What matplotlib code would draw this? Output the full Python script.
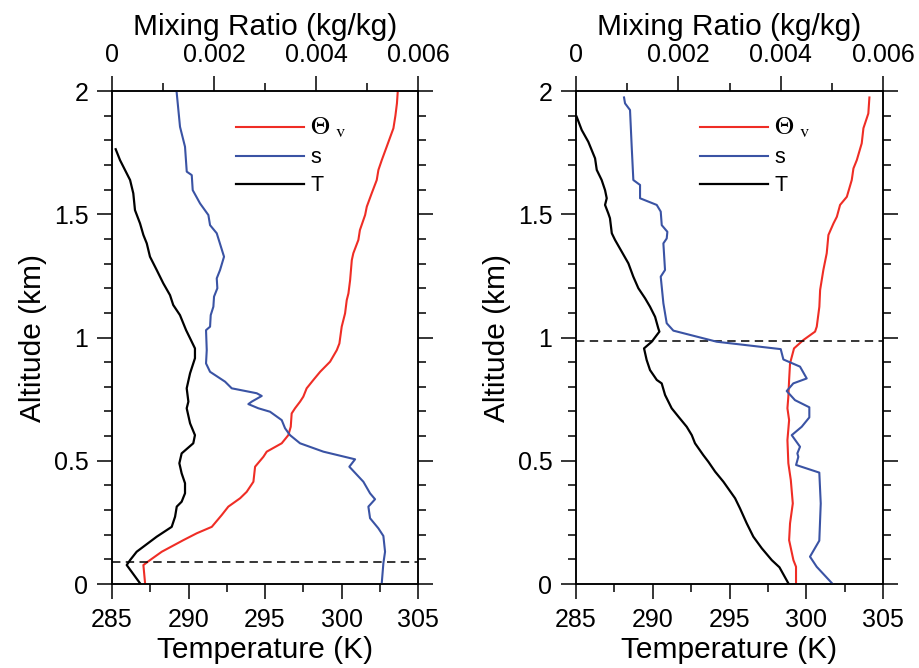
import matplotlib
matplotlib.use("Agg")
import matplotlib.pyplot as plt
from matplotlib.ticker import MultipleLocator, FuncFormatter

plt.rcParams["font.family"] = ["Liberation Sans", "DejaVu Sans"]
plt.rcParams["mathtext.fontset"] = "stix"

RED = "#ef2d25"
BLUE = "#3a53a4"

# ---- left panel ----
thv1_z = [0.003, 0.077, 0.097, 0.131, 0.178, 0.206, 0.232, 0.280, 0.314, 0.348, 0.374, 0.415,
          0.476, 0.516, 0.537, 0.571, 0.604, 0.638, 0.692, 0.713, 0.740, 0.760, 0.794, 0.828,
          0.861, 0.902, 0.949, 0.976, 1.044, 1.098, 1.152, 1.179, 1.233, 1.314, 1.342, 1.396,
          1.436, 1.497, 1.531, 1.585, 1.639, 1.680, 1.720, 1.774, 1.849, 1.900, 1.950, 1.995]
thv1 = [287.16, 287.05, 287.48, 288.25, 289.66, 290.54, 291.52, 292.17, 292.60, 293.37, 293.80, 294.24,
        294.35, 294.89, 295.11, 296.09, 296.52, 296.68, 296.74, 296.96, 297.29, 297.50, 297.72, 298.16,
        298.60, 299.25, 299.69, 299.86, 300.01, 300.23, 300.34, 300.45, 300.56, 300.67, 300.77, 301.10,
        301.20, 301.54, 301.65, 301.97, 302.30, 302.41, 302.63, 302.95, 303.39, 303.52, 303.62, 303.67]

t1_z = [0.003, 0.077, 0.097, 0.131, 0.192, 0.232, 0.273, 0.314, 0.334, 0.368, 0.409, 0.449,
        0.490, 0.530, 0.571, 0.604, 0.652, 0.713, 0.740, 0.794, 0.855, 0.916, 0.956, 0.997,
        1.030, 1.091, 1.132, 1.172, 1.220, 1.274, 1.328, 1.382, 1.416, 1.463, 1.517, 1.585,
        1.639, 1.666, 1.720, 1.764]
t1 = [286.83, 285.96, 286.18, 286.61, 287.92, 288.90, 289.12, 289.23, 289.55, 289.77, 289.77, 289.55,
      289.40, 289.55, 290.31, 290.42, 290.10, 289.88, 289.99, 289.88, 290.10, 290.42, 290.42, 290.10,
      289.84, 289.44, 289.00, 288.79, 288.35, 287.92, 287.48, 287.27, 287.05, 286.83, 286.50, 286.39,
      286.18, 285.96, 285.52, 285.24]

s1_z = [0.003, 0.084, 0.131, 0.195, 0.226, 0.267, 0.314, 0.344, 0.368, 0.415, 0.476, 0.506,
        0.537, 0.571, 0.604, 0.632, 0.665, 0.699, 0.713, 0.730, 0.740, 0.763, 0.774, 0.794,
        0.821, 0.861, 0.895, 0.949, 1.030, 1.044, 1.091, 1.125, 1.166, 1.200, 1.240, 1.274,
        1.328, 1.423, 1.456, 1.497, 1.544, 1.598, 1.659, 1.673, 1.774, 1.855, 1.993]
s1 = [0.005288, 0.005320, 0.005353, 0.005320, 0.005222, 0.005059, 0.005026, 0.005157, 0.005059,
      0.004928, 0.004653, 0.004765, 0.004144, 0.003686, 0.003490, 0.003392, 0.003327, 0.003098,
      0.002869, 0.002673, 0.002739, 0.002935, 0.002837, 0.002347, 0.002216, 0.001922, 0.001843,
      0.001857, 0.001843, 0.001922, 0.001935, 0.001987, 0.002000, 0.002065, 0.002053, 0.002118,
      0.002196, 0.002053, 0.001922, 0.001889, 0.001726, 0.001582, 0.001563, 0.001465, 0.001431,
      0.001333, 0.001268]

pbl1 = 0.09

# ---- right panel ----
thv2_z = [0.003, 0.070, 0.097, 0.178, 0.246, 0.327, 0.422, 0.490, 0.584, 0.665, 0.713, 0.760,
          0.828, 0.895, 0.956, 0.990, 1.024, 1.044, 1.125, 1.193, 1.274, 1.342, 1.416, 1.463,
          1.490, 1.538, 1.571, 1.639, 1.686, 1.720, 1.788, 1.849, 1.909, 1.974]
thv2 = [299.33, 299.33, 299.16, 298.88, 298.94, 299.12, 298.99, 298.83, 298.77, 298.88, 298.77, 298.83,
        298.88, 298.94, 299.20, 299.81, 300.57, 300.68, 300.85, 300.90, 301.11, 301.33, 301.44, 301.77,
        301.99, 302.20, 302.64, 302.96, 303.07, 303.29, 303.61, 303.72, 304.04, 304.11]

t2_z = [0.003, 0.068, 0.097, 0.145, 0.192, 0.246, 0.307, 0.348, 0.415, 0.456, 0.496, 0.523,
        0.571, 0.604, 0.638, 0.679, 0.713, 0.767, 0.814, 0.828, 0.868, 0.909, 0.956, 0.983,
        1.024, 1.037, 1.084, 1.125, 1.159, 1.200, 1.247, 1.301, 1.348, 1.396, 1.423, 1.484,
        1.504, 1.538, 1.565, 1.598, 1.639, 1.680, 1.727, 1.794, 1.842, 1.896]
t2 = [298.83, 298.25, 297.75, 297.10, 296.55, 296.12, 295.68, 295.36, 294.60, 294.06, 293.62, 293.29,
      292.75, 292.54, 292.21, 291.67, 291.23, 290.80, 290.58, 290.26, 289.82, 289.60, 289.43, 289.93,
      290.43, 290.36, 290.15, 289.82, 289.50, 289.06, 288.73, 288.41, 287.98, 287.54, 287.33, 287.21,
      287.10, 286.89, 287.00, 286.89, 286.67, 286.35, 286.24, 285.80, 285.37, 285.04]

s2_z = [0.000, 0.070, 0.111, 0.176, 0.327, 0.452, 0.483, 0.516, 0.530, 0.557, 0.604, 0.638,
        0.676, 0.717, 0.746, 0.783, 0.814, 0.834, 0.882, 0.911, 0.953, 0.983, 1.028, 1.058,
        1.139, 1.247, 1.274, 1.382, 1.402, 1.429, 1.456, 1.511, 1.538, 1.565, 1.619, 1.639,
        1.774, 1.923, 1.950, 1.974]
s2 = [0.005016, 0.004703, 0.004572, 0.004754, 0.004782, 0.004754, 0.004300, 0.004344, 0.004325,
      0.004377, 0.004215, 0.004410, 0.004559, 0.004559, 0.004279, 0.004117, 0.004246, 0.004508,
      0.004377, 0.004052, 0.004000, 0.002750, 0.001902, 0.001772, 0.001707, 0.001655, 0.001739,
      0.001707, 0.001772, 0.001785, 0.001675, 0.001655, 0.001577, 0.001251, 0.001251, 0.001120,
      0.001088, 0.001055, 0.000958, 0.000938]

pbl2 = 0.985

fig = plt.figure(figsize=(9.19, 6.68), dpi=100)


def panel(rect, thv_z, thv, t_z, t, s_z, s, pbl):
    ax = fig.add_axes(rect)
    tw = ax.twiny()

    l_thv, = ax.plot(thv, thv_z, color=RED, lw=1.5)
    l_t, = ax.plot(t, t_z, color="black", lw=1.6)
    l_s, = tw.plot(s, s_z, color=BLUE, lw=1.5)
    ax.axhline(pbl, color="black", lw=1.1, ls=(0, (5.5, 3.5)))

    ax.set_xlim(285, 305)
    ax.set_ylim(0, 2)
    tw.set_xlim(0, 0.006)

    ax.xaxis.set_major_locator(MultipleLocator(5))
    ax.xaxis.set_minor_locator(MultipleLocator(2.5))
    ax.yaxis.set_major_locator(MultipleLocator(0.5))
    ax.yaxis.set_minor_locator(MultipleLocator(0.1))
    ax.yaxis.set_major_formatter(FuncFormatter(lambda v, _: f"{v:g}"))
    tw.xaxis.set_major_locator(MultipleLocator(0.002))
    tw.xaxis.set_minor_locator(MultipleLocator(0.001))
    tw.xaxis.set_major_formatter(FuncFormatter(lambda v, _: "0" if abs(v) < 1e-12 else f"{v:.3f}"))

    for a in (ax, tw):
        a.tick_params(which="both", direction="out", width=1.1, labelsize=18, pad=6)
        a.tick_params(which="major", length=11)
        a.tick_params(which="minor", length=6)
        for sp in a.spines.values():
            sp.set_linewidth(1.1)
    ax.tick_params(which="both", right=True)

    ax.set_xlabel("Temperature (K)", fontsize=21.5, labelpad=3)
    ax.set_ylabel("Altitude (km)", fontsize=21.5, labelpad=5)
    tw.set_xlabel("Mixing Ratio (kg/kg)", fontsize=21.5, labelpad=6)

    leg = tw.legend([l_thv, l_s, l_t], [r"$\Theta\ _{\mathrm{v}}$", "s", "T"],
                    loc="upper left", bbox_to_anchor=(0.405, 0.951), frameon=False,
                    borderpad=0, borderaxespad=0,
                    fontsize=15.5, handlelength=3.16, labelspacing=0.34, handletextpad=0.28)
    leg.get_texts()[0].set_fontsize(19)


panel([0.1219, 0.1257, 0.3330, 0.7380], thv1_z, thv1, t1_z, t1, s1_z, s1, pbl1)
panel([0.6268, 0.1257, 0.3341, 0.7380], thv2_z, thv2, t2_z, t2, s2_z, s2, pbl2)

fig.savefig("out.png", dpi=100)
